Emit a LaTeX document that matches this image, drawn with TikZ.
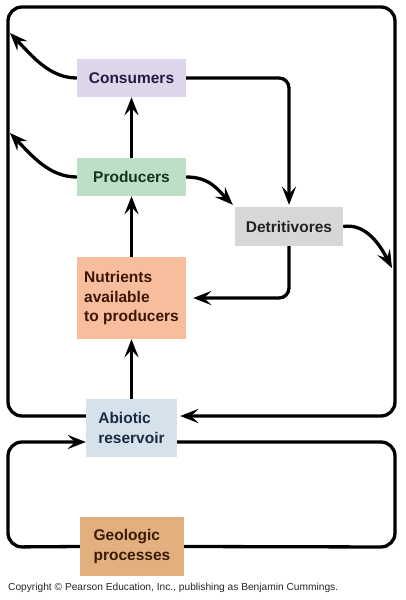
\documentclass[tikz,border=0pt]{standalone}
\usepackage{fontspec}
\usepackage{graphicx}
\setmainfont{Liberation Sans}
\usetikzlibrary{arrows.meta,calc}
\definecolor{fCons}{HTML}{DDD5EA}
\definecolor{tCons}{HTML}{231B45}
\definecolor{fProd}{HTML}{BEDFC6}
\definecolor{tProd}{HTML}{10361C}
\definecolor{fDet}{HTML}{D7D7D7}
\definecolor{tDet}{HTML}{222222}
\definecolor{fNut}{HTML}{F8BD9C}
\definecolor{tNut}{HTML}{3A1608}
\definecolor{fAb}{HTML}{D5E2EC}
\definecolor{tAb}{HTML}{1A2B40}
\definecolor{fGeo}{HTML}{E2AF7F}
\definecolor{tGeo}{HTML}{3A1A08}
\begin{document}
\begin{tikzpicture}[x=1pt,y=-1pt,
  box/.style={inner sep=0pt, align=left, font=\bfseries\fontsize{15.5}{19.5}\selectfont},
  flowline/.style={line width=3.3pt, black},
  flow/.style={flowline, -{Stealth[length=18pt,width=14pt,inset=7pt]}}]
\useasboundingbox[fill=white] (0,0) rectangle (405,600);

\node[box, fill=fCons, text=tCons, minimum width=109pt, minimum height=38pt] (cons) at (131.5,78) {Consumers};
\node[box, fill=fProd, text=tProd, minimum width=109pt, minimum height=38pt] (prod) at (131.5,177) {Producers};
\node[box, fill=fDet, text=tDet, minimum width=108pt, minimum height=39pt] (det) at (289,226.5) {Detritivores};
\node[box, fill=fNut, text=tNut, minimum width=109pt, minimum height=82pt] (nut) at (131.5,298) {Nutrients\\available\\to producers};
\node[box, fill=fAb, text=tAb, minimum width=91pt, minimum height=58pt] (ab) at (131.5,428) {Abiotic\\reservoir};
\node[box, fill=fGeo, text=tGeo, minimum width=104pt, minimum height=59pt] (geo) at (132,546.5) {Geologic\\processes};

\node[anchor=west, inner sep=0pt, text=black!85] (copy) at (8,588) {\resizebox{330pt}{!}{Copyright © Pearson Education, Inc., publishing as Benjamin Cummings.}};

% free ends at the outer loop
\coordinate (cl) at (10,33);
\coordinate (pl) at (10,133);
\coordinate (dr) at (392,268);

% vertical flows
\draw[flow] (prod) -- (cons);
\draw[flow] (nut) -- (prod);
\draw[flow] (ab) -- (nut);

% consumers / detritivores
\draw[flow, rounded corners=10pt] (cons.east) -| ([yshift=2pt]det.north);
\draw[flow, rounded corners=10pt] (det.south) |- ([xshift=7pt]nut.east);
\draw[flow] (prod.east) .. controls (210,177) and (218,190) .. ([shift={(-2,-2)}]det.north west);

% losses to the outer loop
\draw[flow] (cons.west) .. controls (50,78) and (33,57) .. (cl);
\draw[flow] (prod.west) .. controls (50,177) and (33,157) .. (pl);
\draw[flow] (det.east) .. controls (366,223) and (380,245) .. (dr);

% big outer loop
\draw[flow, rounded corners=14pt] ($(ab.west)+(0,-12)$) -- (8,416) -- (8,7) -- (395,7) -- (395,416) -- ($(ab.east)+(3,-12)$);

% lower loop
\draw[flowline, rounded corners=14pt] ($(ab.east)+(0,14)$) -- (395,442) -- (395,547) -- (geo.east);
\draw[flow, rounded corners=14pt] (geo.west) -- (8,547) -- (8,442) -- ($(ab.west)+(0,14)$);
\end{tikzpicture}
\end{document}
